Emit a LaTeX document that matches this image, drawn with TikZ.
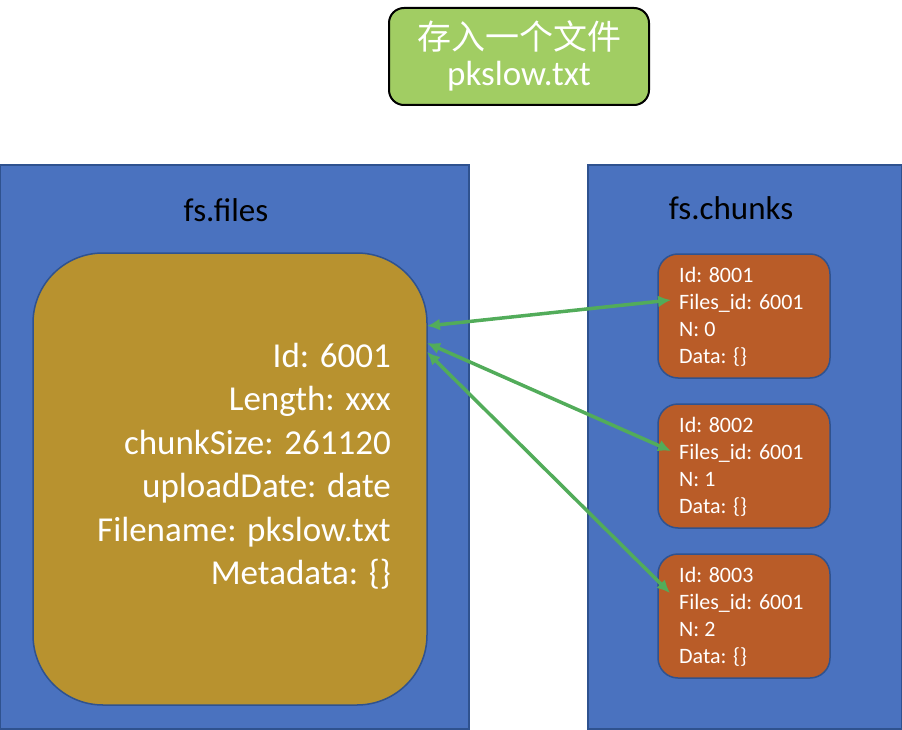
\documentclass[tikz,border=0pt]{standalone}
\usepackage{fontspec}
\setmainfont{Carlito}
\newfontfamily\cjk{Noto Sans CJK SC}
\usetikzlibrary{arrows.meta}
\definecolor{topgreen}{HTML}{A1CD63}
\definecolor{boxblue}{HTML}{4A72BF}
\definecolor{edgeblue}{HTML}{2F528F}
\definecolor{gold}{HTML}{B8922F}
\definecolor{chunkorange}{HTML}{B95C28}
\definecolor{arrowgreen}{HTML}{52AC5A}
\tikzset{
  bluebox/.style={draw=edgeblue, fill=boxblue, line width=1.5pt, inner sep=0pt},
  goldbox/.style={draw=edgeblue, fill=gold, line width=1.5pt, rounded corners=70pt, inner sep=0pt},
  chunkbox/.style={draw=edgeblue, fill=chunkorange, line width=1.5pt, rounded corners=20pt, inner sep=0pt, minimum width=172pt, minimum height=124pt},
  topbox/.style={draw=black, fill=topgreen, line width=2pt, rounded corners=15pt, inner sep=0pt, minimum width=260pt, minimum height=97pt},
  title/.style={font=\fontsize{33}{40}\selectfont, text=black, inner sep=0pt},
  bigtext/.style={font=\fontsize{35}{43.5}\selectfont, text=white, align=right, inner sep=0pt},
  smalltext/.style={font=\fontsize{22}{27}\selectfont, text=white, align=left, inner sep=0pt},
  link/.style={draw=arrowgreen, line width=3.5pt, {Latex[length=13pt,width=12pt]}-{Latex[length=13pt,width=12pt]}}
}
\begin{document}
\begin{tikzpicture}[x=1pt,y=-1pt]
\useasboundingbox (0,0) rectangle (902,730);
% top box
\node[topbox] (top) at (519,56.5) {};
\node[inner sep=0pt, text=white, font=\cjk\fontsize{34}{38}\selectfont] (toptxt1) at (519,36) {存入一个文件};
\node[inner sep=0pt, text=white, font=\fontsize{35}{40}\selectfont] (toptxt2) at (519,76) {pkslow.txt};
% containers
\node[bluebox, minimum width=469pt, minimum height=564pt] (files) at (234.5,447) {};
\node[bluebox, minimum width=314pt, minimum height=564pt] (chunks) at (745,447) {};
\node[title] (filestitle) at (226,210) {fs.files};
\node[title] (chunkstitle) at (731,208) {fs.chunks};
% file document
\node[goldbox, minimum width=394pt, minimum height=452pt] (doc) at (230,479) {};
\node[bigtext, anchor=east] (doctext) at (391,466) {Id: 6001\\Length: xxx\\chunkSize: 261120\\uploadDate: date\\Filename: pkslow.txt\\Metadata: \{\}};
% chunks
\node[chunkbox] (c1) at (744,316) {};
\node[chunkbox] (c2) at (744,466) {};
\node[chunkbox] (c3) at (744,616) {};
\node[smalltext, anchor=west] (c1t) at (679,317) {Id: 8001\\Files\_id: 6001\\N: 0\\Data: \{\}};
\node[smalltext, anchor=west] (c2t) at (679,467) {Id: 8002\\Files\_id: 6001\\N: 1\\Data: \{\}};
\node[smalltext, anchor=west] (c3t) at (679,617) {Id: 8003\\Files\_id: 6001\\N: 2\\Data: \{\}};
% arrow ends
\coordinate (a1L) at (427,326);
\coordinate (a1R) at (671,300);
\coordinate (a2L) at (427,343);
\coordinate (a2R) at (671,451);
\coordinate (a3L) at (427,352);
\coordinate (a3R) at (670,593);
\draw[link] (a1L) -- (a1R);
\draw[link] (a2L) -- (a2R);
\draw[link] (a3L) -- (a3R);
\end{tikzpicture}
\end{document}
